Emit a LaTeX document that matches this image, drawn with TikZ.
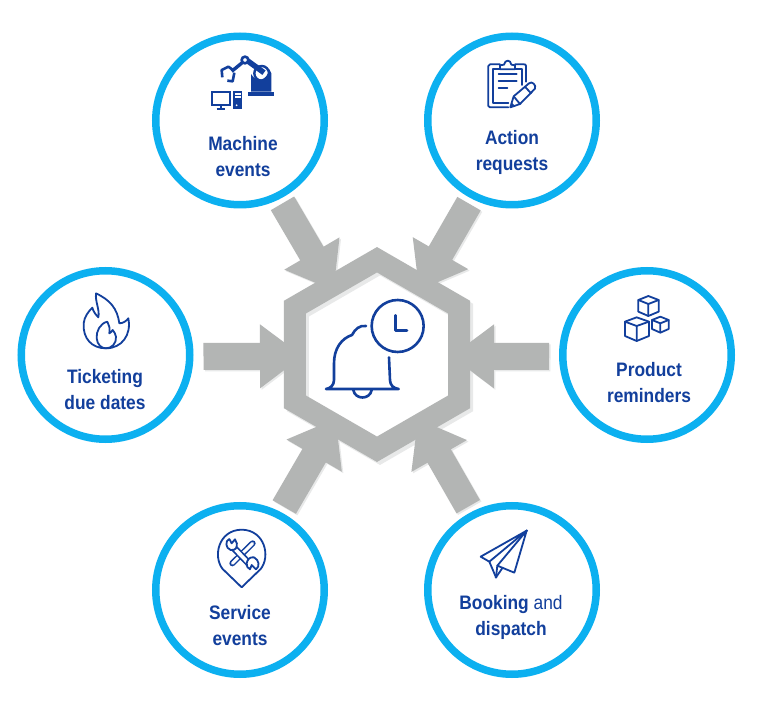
\documentclass[tikz,border=0pt]{standalone}
\usepackage{fontspec}
\setmainfont[FakeStretch=0.89]{Liberation Sans}
\usetikzlibrary{arrows.meta,shapes.geometric}
\definecolor{ink}{HTML}{123F9C}
\definecolor{ring}{HTML}{0CB0F0}
\definecolor{block}{HTML}{B3B5B4}
\definecolor{blockshade}{HTML}{E8E9E9}
\tikzset{
  ringnode/.style={circle,draw=ring,line width=7.5pt,minimum size=168.5pt,inner sep=0pt},
  hubnode/.style={regular polygon,regular polygon sides=6,shape border rotate=30,draw=block,line width=22pt,
    minimum size=189.5pt,inner sep=0pt,miter limit=10},
  lab/.style={font=\fontsize{19.5}{26}\selectfont\bfseries,align=center,text=ink,anchor=base,inner sep=0pt},
  blockpath/.style={draw=block,line width=27pt,line cap=butt,
    -{Triangle[length=43pt,width=61pt]}},
  blockshadow/.style={draw=blockshade,fill=blockshade,line width=27pt,line cap=butt,
    -{Triangle[length=43pt,width=61pt]},transform canvas={xshift=1.5pt,yshift=-1.5pt}},
  ic/.style={draw=ink,line width=2.6pt,line join=round,line cap=round},
  icthin/.style={draw=ink,line width=1.8pt,line join=round,line cap=round},
}
\newcommand{\blockarrows}[1]{%
  \draw[#1,shorten <=96pt,shorten >=74pt] ([xshift=-6pt]machine.center) -- ([xshift=-6pt]hubc);
  \draw[#1,shorten <=96pt,shorten >=74pt] ([xshift=5pt]action.center) -- ([xshift=5pt]hubc);
  \draw[#1,shorten <=96pt,shorten >=74pt] ([xshift=-4pt]service.center) -- ([xshift=-4pt]hubc);
  \draw[#1,shorten <=96pt,shorten >=74pt] ([xshift=4pt]booking.center) -- ([xshift=4pt]hubc);
  \draw[#1,shorten <=10pt,shorten >=74pt] ([yshift=-1.5pt]ticket.east) -- ([yshift=-1.5pt]hubc);
  \draw[#1,shorten <=10pt,shorten >=74pt] ([yshift=-1.5pt]product.west) -- ([yshift=-1.5pt]hubc);
}
\begin{document}
\begin{tikzpicture}[x=1pt,y=-1pt]
\fill[white] (0,0) rectangle (764,711);
\useasboundingbox (0,0) rectangle (764,711);

\node[ringnode] (machine) at (240,120.5) {};
\node[ringnode] (action)  at (512,120.5) {};
\node[ringnode] (ticket)  at (105.5,355) {};
\node[ringnode] (product) at (647,355) {};
\node[ringnode] (service) at (240,590) {};
\node[ringnode] (booking) at (512,590) {};

\coordinate (hubc) at (377,354.5);

\blockarrows{blockshadow}
\node[hubnode,draw=blockshade,transform canvas={xshift=1.5pt,yshift=-1.5pt}] (hubshade) at (hubc) {};
\blockarrows{blockpath}
\node[hubnode] (hub) at (hubc) {};

% labels (anchored on the baseline of their last line)
\node[lab] (l1) at (243,177) {Machine\\events};
\node[lab] (l2) at (512,171) {Action\\requests};
\node[lab] (l3) at (105,410) {Ticketing\\due dates};
\node[lab] (l4) at (649,403) {Product\\reminders};
\node[lab] (l5) at (240,645) {Service\\events};
\node[lab] (l6) at (511,635) {Booking \textmd{and}\\dispatch};

% bell with clock
\begin{scope}[shift={(270,240)},scale=1/3]
  \draw[ic] (383,258) circle[radius=78];
  \draw[ic] (377,226) -- (377,272) -- (411,272);
  \draw[ic] (288,258) .. controls (268,255) and (255,268) .. (246,285)
        .. controls (215,295) and (192,325) .. (192,370)
        -- (192,420) .. controls (192,435) and (182,445) .. (168,447) -- (386,447)
        .. controls (370,445) and (360,435) .. (360,420) -- (357,352);
  \draw[ic] (250,450) .. controls (255,480) and (300,480) .. (305,450);
\end{scope}

% robot and computer
\begin{scope}[shift={(150,30)},scale=1/3]
  \fill[ink] (295,185) rectangle (372,199);
  \fill[ink] (303,185) -- (303,132) .. controls (318,158) and (350,155) .. (358,118) -- (364,130) -- (364,185) -- cycle;
  \draw[ink,line width=5.5pt] (292,92) -- (342,128);
  \draw[ink,line width=2.4pt] (335,130) circle[radius=22];
  \draw[ink,line width=3.4pt] (278,97) -- (245,124);
  \draw[ink,fill=white,line width=2.6pt] (285,90) circle[radius=10];
  \draw[ink,line width=2.6pt,line join=round] (217,142) -- (215,120) -- (235,110) -- (252,122);
  \draw[ink,line width=2.6pt,line join=round] (232,152) -- (248,154) -- (253,128);
  \draw[ink,line width=2.2pt] (186,186) rectangle (240,225);
  \draw[ink,line width=2.2pt] (213,225) -- (213,235);
  \draw[ink,line width=2.2pt] (200,237) -- (226,237);
  \fill[ink] (250,184) rectangle (276,237);
  \fill[white] (254,190) rectangle (272,194);
  \fill[white] (254,199) rectangle (272,203);
  \fill[white] (260,226) circle[radius=3];
\end{scope}

% clipboard and pencil
\begin{scope}[shift={(420,30)},scale=1/3]
  \draw[icthin] (318,155) -- (318,108) .. controls (318,104) and (316,103) .. (312,103) -- (285,103);
  \draw[icthin] (240,103) -- (210,103) .. controls (206,103) and (205,105) .. (205,108) -- (205,228) .. controls (205,231) and (207,232) .. (210,232) -- (265,232);
  \draw[icthin] (305,165) -- (305,117) -- (285,117);
  \draw[icthin] (240,117) -- (218,117) -- (218,220) -- (265,220);
  \draw[icthin] (240,118) -- (240,106) -- (252,104) .. controls (255,88) and (272,88) .. (274,104) -- (285,106) -- (285,118) -- cycle;
  \draw[icthin] (236,133) -- (290,133);
  \draw[icthin] (236,154) -- (290,154);
  \draw[icthin] (236,175) -- (262,175);
  \draw[icthin] (271,232) -- (281,199) -- (327,160) .. controls (335,152) and (350,165) .. (345,176) -- (300,222) -- cycle;
  \draw[icthin] (281,199) -- (300,222);
  \draw[icthin] (315,170) -- (333,190);
  \fill[ink] (271,232) -- (275,218) -- (286,228) -- cycle;
\end{scope}

% flame
\begin{scope}[shift={(10,260)},scale=1/3]
  \draw[icthin] (258,100) .. controls (300,120) and (322,145) .. (328,190)
     .. controls (340,190) and (350,182) .. (355,175)
     .. controls (365,225) and (335,265) .. (288,265)
     .. controls (245,265) and (218,235) .. (221,190)
     .. controls (223,170) and (235,155) .. (247,143)
     .. controls (250,155) and (258,165) .. (265,172)
     .. controls (270,150) and (255,125) .. (258,100) -- cycle;
  \draw[icthin] (292,185) .. controls (270,190) and (258,215) .. (260,235)
     .. controls (262,255) and (275,265) .. (288,265)
     .. controls (305,265) and (320,250) .. (318,230)
     .. controls (317,222) and (312,215) .. (308,210)
     .. controls (305,215) and (302,218) .. (298,220)
     .. controls (300,205) and (298,195) .. (292,185) -- cycle;
\end{scope}

% cubes
\begin{scope}[shift={(555,260)},scale=1/3]
  \draw[icthin] (280,108) -- (311,120) -- (311,155) -- (280,168) -- (250,155) -- (250,120) -- cycle;
  \draw[icthin] (250,120) -- (280,132) -- (311,120) (280,132) -- (280,168);
  \draw[icthin] (245,172) -- (282,185) -- (282,228) -- (245,243) -- (210,228) -- (210,185) -- cycle;
  \draw[icthin] (210,185) -- (245,198) -- (282,185) (245,198) -- (245,243);
  \draw[icthin] (316,170) -- (341,180) -- (341,207) -- (316,218) -- (291,207) -- (291,180) -- cycle;
  \draw[icthin] (291,180) -- (316,190) -- (341,180) (316,190) -- (316,218);
\end{scope}

% map pin with tools
\begin{scope}[shift={(150,500)},scale=1/3]
  \draw[icthin] (275,262) -- (218,207) .. controls (188,170) and (205,90) .. (275,89)
     .. controls (345,90) and (362,170) .. (332,207) -- cycle;
  \draw[ink,line width=6pt,line cap=round] (308,130) -- (247,190);
  \draw[white,line width=3pt,line cap=round] (308,130) -- (247,190);
  \draw[ink,line width=7pt] (248,140) -- (303,197);
  \draw[white,line width=3.6pt] (248,140) -- (303,197);
  \draw[icthin,fill=white] (238,117) .. controls (225,122) and (226,145) .. (242,150)
     .. controls (250,152) and (255,148) .. (258,145)
     .. controls (262,135) and (262,125) .. (255,118) -- (245,130) -- (238,117);
  \draw[icthin,fill=white] (318,208) .. controls (330,200) and (328,180) .. (312,172)
     .. controls (300,170) and (292,178) .. (290,190)
     .. controls (290,198) and (292,205) .. (300,208) -- (305,195) -- (318,208);
\end{scope}

% paper plane
\begin{scope}[shift={(420,500)},scale=1/3]
  \draw[icthin] (320,92) -- (182,170) -- (208,185) -- cycle;
  \draw[icthin] (208,185) -- (228,232) -- (248,203);
  \draw[icthin] (320,92) -- (283,218) -- (232,197) -- cycle;
  \draw[icthin] (232,197) -- (228,232);
  \fill[ink] (320,92) circle[radius=4];
  \fill[ink] (228,232) circle[radius=4];
\end{scope}
\end{tikzpicture}
\end{document}
